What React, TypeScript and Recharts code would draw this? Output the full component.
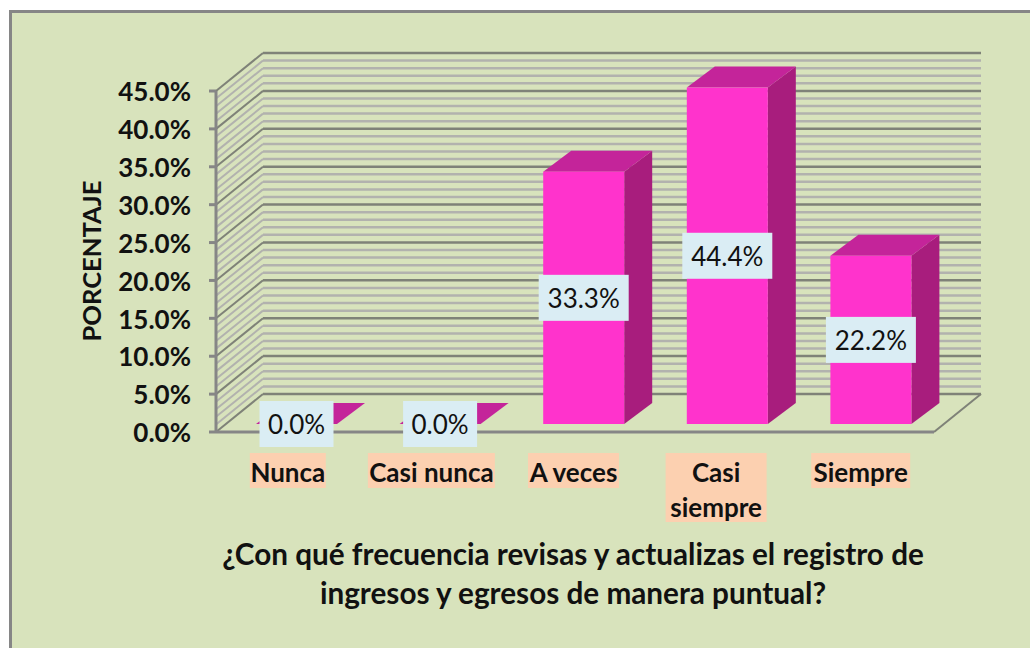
import React from "react";
import { BarChart, Bar, XAxis, YAxis, CartesianGrid } from "recharts";

const categories = ["Nunca", "Casi nunca", "A veces", "Casi siempre", "Siempre"];
const percentages = [0, 0, 33.3, 44.4, 22.2];
const yTicks = [0, 5, 10, 15, 20, 25, 30, 35, 40, 45];
const gridValues = [
  0, 1, 2, 3, 4, 5, 6, 7, 8, 9, 10, 11, 12, 13, 14, 15, 16, 17, 18, 19, 20, 21, 22,
  23, 24, 25, 26, 27, 28, 29, 30, 31, 32, 33, 34, 35, 36, 37, 38, 39, 40, 41, 42, 43, 44, 45,
];
const titleLines = ["¿Con qué frecuencia revisas y actualizas el registro de", "ingresos y egresos de manera puntual?"];
const yAxisTitle = "PORCENTAJE";
const tickLabelWidths: Record<string, number> = {
  Nunca: 76,
  "Casi nunca": 127,
  "A veces": 91,
  "Casi siempre": 101,
  Siempre: 99,
};
const tickLabelShifts: Record<string, number> = {
  Nunca: 0,
  "Casi nunca": 0,
  "A veces": -1.5,
  "Casi siempre": -2.5,
  Siempre: -1.5,
};

const data = categories.map((name, i) => ({ name, value: percentages[i] }));

const FONT = "Lato, 'Open Sans', sans-serif";
const TEXT = "#111111";
// 3d look: the wall sits behind the plot, the bars sit a little inside the floor
const WALL_DX = 47;
const WALL_DY = 38;
const BAR_DX = 9;
const BAR_DY = 8;
const DEPTH_X = 28;
const DEPTH_Y = 21;

const WallLine = (props: any) => {
  const { x1, x2, y1, index } = props;
  const value = gridValues[index] ?? 0;
  const major = value % 5 === 0;
  const color = major ? "#7f8278" : "#b2b2ae";
  const bx = x1 + WALL_DX;
  const by = y1 - WALL_DY;
  return (
    <g fill="none" stroke={color}>
      <line x1={x1} y1={y1} x2={bx} y2={by} strokeWidth={2} />
      <line x1={bx} y1={by} x2={x2 + WALL_DX} y2={by} strokeWidth={2.5} />
      {value === 0 && <line x1={x2} y1={y1} x2={x2 + WALL_DX} y2={by} strokeWidth={2} />}
    </g>
  );
};

const Bar3D = (props: any) => {
  const { x, y, width, height } = props;
  const left = x + BAR_DX;
  const right = left + width;
  const top = y - BAR_DY;
  const bottom = top + height;
  return (
    <g>
      <polygon
        points={`${right},${top} ${right + DEPTH_X},${top - DEPTH_Y} ${right + DEPTH_X},${bottom - DEPTH_Y} ${right},${bottom}`}
        fill="#a81d7d"
      />
      <polygon
        points={`${left},${top} ${left + DEPTH_X},${top - DEPTH_Y} ${right + DEPTH_X},${top - DEPTH_Y} ${right},${top}`}
        fill="#c4249a"
      />
      <rect x={left} y={top} width={width} height={height} fill="#ff33cc" />
    </g>
  );
};

const ValueLabel = (props: any) => {
  const { x, y, width, height, value } = props;
  const text = `${Number(value).toFixed(1)}%`;
  const boxW = text.length > 4 ? 90 : 74;
  const cx = x + BAR_DX + width / 2;
  const cy = y - BAR_DY + height / 2;
  return (
    <g>
      <rect x={cx - boxW / 2} y={cy - 23} width={boxW} height={46} fill="#daedf4" />
      <text x={cx} y={cy + 10} textAnchor="middle" fontFamily={FONT} fontSize={26} fill={TEXT}>
        {text}
      </text>
    </g>
  );
};

const CategoryTick = (props: any) => {
  const { x, payload } = props;
  const label: string = payload.value;
  const lines = label === "Casi siempre" ? ["Casi", "siempre"] : [label];
  const boxW = tickLabelWidths[label];
  const cx = x + tickLabelShifts[label];
  return (
    <g>
      <rect x={cx - boxW / 2} y={453} width={boxW} height={lines.length === 2 ? 69 : 35} fill="#fcd0b0" />
      {lines.map((l, i) => (
        <text key={l} x={cx} y={482 + i * 35} textAnchor="middle" fontFamily={FONT} fontWeight={700} fontSize={26} fill={TEXT}>
          {l}
        </text>
      ))}
    </g>
  );
};

const XTitle = () => (
  <g>
    {titleLines.map((l, i) => (
      <text key={l} x={573} y={565 + i * 39} textAnchor="middle" fontFamily={FONT} fontWeight={700} fontSize={29.7} fill={TEXT}>
        {l}
      </text>
    ))}
  </g>
);

const YTitle = () => (
  <text
    x={101}
    y={261}
    transform="rotate(-90 101 261)"
    textAnchor="middle"
    fontFamily={FONT}
    fontWeight={700}
    fontSize={25.6}
    fill={TEXT}
  >
    {yAxisTitle}
  </text>
);

export default function App() {
  return (
    <div style={{ position: "absolute", left: 0, top: 0, width: 1030, height: 648, overflow: "hidden", background: "#ffffff" }}>
      <div
        style={{
          position: "absolute",
          left: 9,
          top: 10,
          width: 1040,
          height: 700,
          background: "#d8e3bc",
          border: "3px solid #868686",
        }}
      />
      <div style={{ position: "absolute", left: 0, top: 0 }}>
        <BarChart
          width={1030}
          height={648}
          data={data}
          margin={{ top: 91, right: 96, bottom: 0, left: 0 }}
          barCategoryGap={0}
          style={{ background: "transparent" }}
        >
          <CartesianGrid
            vertical={false}
            horizontal={(p: any) => <WallLine key={p.index} {...p} />}
            horizontalValues={gridValues}
          />
          <XAxis
            dataKey="name"
            height={216}
            interval={0}
            axisLine={{ stroke: "#868686", strokeWidth: 3 }}
            tickLine={false}
            tick={<CategoryTick />}
            label={{ content: <XTitle /> }}
          />
          <YAxis
            width={216}
            domain={[0, 45]}
            ticks={yTicks}
            interval={0}
            tickFormatter={(v: number) => `${v.toFixed(1)}%`}
            axisLine={{ stroke: "#868686", strokeWidth: 3 }}
            tickLine={{ stroke: "#868686", strokeWidth: 3 }}
            tickSize={7}
            tickMargin={18}
            tick={{ fontFamily: FONT, fontWeight: 700, fontSize: 26, fill: TEXT, dy: 1 }}
            label={{ content: <YTitle /> }}
          />
          <Bar
            dataKey="value"
            barSize={81}
            isAnimationActive={false}
            shape={<Bar3D />}
            label={<ValueLabel />}
          />
        </BarChart>
      </div>
    </div>
  );
}
